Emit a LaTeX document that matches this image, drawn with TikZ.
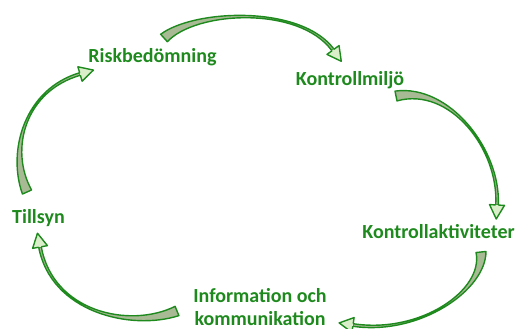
\documentclass[tikz,border=0pt]{standalone}
\usepackage{fontspec}
\setmainfont{Carlito}
\usetikzlibrary{calc}

\definecolor{leaf}{RGB}{30,138,30}
\definecolor{stem}{RGB}{168,186,148}
\definecolor{bud}{RGB}{218,238,202}

\begin{document}
\begin{tikzpicture}[x=1pt,y=-1pt,
		step label/.style={font=\fontsize{20}{23}\selectfont\bfseries,text=leaf,inner sep=0pt,anchor=base},
		swoosh/.style={draw=leaf,line width=1.4pt,line join=round,fill=stem},
		swoosh head/.style={draw=leaf,line width=1.4pt,line join=round,fill=bud}]

		\useasboundingbox (0,0) rectangle (520,329);

		\node [step label] (risk) at (152.5,63) {Riskbedömning};
		\node [step label] (miljo) at (350,85) {Kontrollmiljö};
		\node [step label] (aktiv) at (438.5,238) {Kontrollaktiviteter};
		\node [step label,align=center] (info) at (260,325) {Information och\\kommunikation};
		\node [step label] (tillsyn) at (38.5,223) {Tillsyn};

		% risk -> miljo
		\coordinate (s1-0) at (164,38);  \coordinate (s1-1) at (195,10);
		\coordinate (s1-2) at (300,5);   \coordinate (s1-3) at (333,50);
		% miljo -> aktiv
		\coordinate (s2-0) at (396,96);  \coordinate (s2-1) at (450,85);
		\coordinate (s2-2) at (500,150); \coordinate (s2-3) at (497,205);
		% aktiv -> info
		\coordinate (s3-0) at (481,252); \coordinate (s3-1) at (485,290);
		\coordinate (s3-2) at (420,335); \coordinate (s3-3) at (353,325);
		% info -> tillsyn
		\coordinate (s4-0) at (177,311); \coordinate (s4-1) at (130,330);
		\coordinate (s4-2) at (52,312);  \coordinate (s4-3) at (40,247);
		% tillsyn -> risk
		\coordinate (s5-0) at (27,192);  \coordinate (s5-1) at (8,150);
		\coordinate (s5-2) at (25,90);   \coordinate (s5-3) at (80,74);

		\foreach \i in {1,...,5}{
			\path ($(s\i-0)!5pt!90:(s\i-1)$) coordinate (l0)
				($(s\i-0)!5pt!-90:(s\i-1)$) coordinate (r0)
				($(s\i-1)!1.2pt!-90:(s\i-0)$) coordinate (l1)
				($(s\i-1)!1.2pt!90:(s\i-0)$) coordinate (r1)
				($(s\i-2)!1pt!90:(s\i-3)$) coordinate (l2)
				($(s\i-2)!1pt!-90:(s\i-3)$) coordinate (r2)
				($(s\i-3)!1.3pt!-90:(s\i-2)$) coordinate (l3)
				($(s\i-3)!1.3pt!90:(s\i-2)$) coordinate (r3)
				($(s\i-3)!7.5pt!-90:(s\i-2)$) coordinate (hl)
				($(s\i-3)!7.5pt!90:(s\i-2)$) coordinate (hr)
				($(s\i-3)!-14pt!(s\i-2)$) coordinate (tip);
			\draw [swoosh] (l0) .. controls (l1) and (l2) .. (l3) -- (r3)
				.. controls (r2) and (r1) .. (r0) -- cycle;
			\draw [swoosh head] (l3) -- (hl) -- (tip) -- (hr) -- (r3);
		}

\end{tikzpicture}
\end{document}
